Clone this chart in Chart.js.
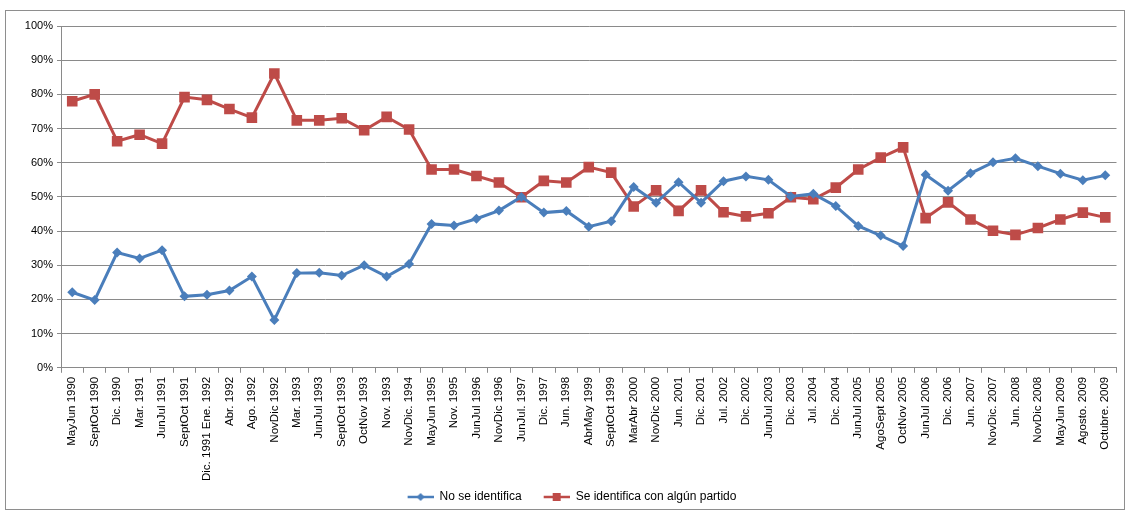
<!DOCTYPE html>
<html>
<head>
<meta charset="utf-8">
<script src="https://cdn.jsdelivr.net/npm/chart.js@4.4.1/dist/chart.umd.min.js"></script>
<style>
  html, body { margin: 0; padding: 0; background: #fff; }
  #frame {
    position: absolute; left: 5px; top: 10px;
    width: 1118px; height: 498px;
    border: 1px solid #8e8e8e;
  }
  #frame canvas { display: block; }
</style>
</head>
<body>
<div id="frame"><canvas id="lineChart" width="1118" height="498"></canvas></div>
<script>
// Survey rounds, 1990-2009
const periods = [
    'MayJun 1990', 'SeptOct 1990', 'Dic. 1990', 'Mar. 1991', 'JunJul 1991',
    'SeptOct 1991', 'Dic. 1991 Ene. 1992', 'Abr. 1992', 'Ago. 1992', 'NovDic 1992',
    'Mar. 1993', 'JunJul 1993', 'SeptOct 1993', 'OctNov 1993', 'Nov. 1993',
    'NovDic. 1994', 'MayJun 1995', 'Nov. 1995', 'JunJul 1996', 'NovDic 1996',
    'JunJul. 1997', 'Dic. 1997', 'Jun. 1998', 'AbrMay 1999', 'SeptOct 1999',
    'MarAbr 2000', 'NovDic 2000', 'Jun. 2001', 'Dic. 2001', 'Jul. 2002',
    'Dic. 2002', 'JunJul 2003', 'Dic. 2003', 'Jul. 2004', 'Dic. 2004',
    'JunJul 2005', 'AgoSept 2005', 'OctNov 2005', 'JunJul 2006', 'Dic. 2006',
    'Jun. 2007', 'NovDic. 2007', 'Jun. 2008', 'NovDic 2008', 'MayJun 2009',
    'Agosto. 2009', 'Octubre. 2009'
];

// % that does not identify with any party
const noIdentifica = [
    22.1, 19.8, 33.7, 32.0, 34.4, 20.9, 21.4, 22.6, 26.7, 14.0,
    27.7, 27.8, 27.0, 30.0, 26.7, 30.4, 42.1, 41.6, 43.6, 46.0,
    50.0, 45.4, 45.9, 41.3, 42.9, 52.9, 48.3, 54.3, 48.3, 54.6,
    56.0, 55.0, 50.1, 50.9, 47.3, 41.5, 38.7, 35.6, 56.5, 51.8,
    56.9, 60.1, 61.3, 59.0, 56.8, 54.9, 56.3
];

// % that identifies with some party
const seIdentifica = [
    78.0, 80.0, 66.3, 68.2, 65.6, 79.2, 78.4, 75.7, 73.2, 86.1,
    72.4, 72.4, 73.0, 69.5, 73.4, 69.7, 58.0, 58.0, 56.1, 54.2,
    49.9, 54.7, 54.2, 58.7, 57.1, 47.2, 51.9, 45.9, 51.9, 45.5,
    44.3, 45.2, 49.9, 49.3, 52.7, 58.0, 61.5, 64.5, 43.8, 48.4,
    43.4, 40.1, 38.9, 40.9, 43.4, 45.4, 44.0
];

const yTicks = [0, 10, 20, 30, 40, 50, 60, 70, 80, 90, 100];

const BLUE = '#4a7ebb';
const RED = '#be4b48';
const GRID = '#8a8a8a';
const FONT = { family: 'Liberation Sans', size: 11 };

// little line + marker swatch for the legend (left 16px kept blank as spacing)
function legendIcon(color, shape) {
    const c = document.createElement('canvas');
    c.width = 42;
    c.height = 12;
    const g = c.getContext('2d');
    g.strokeStyle = color;
    g.lineWidth = 2.5;
    g.beginPath();
    g.moveTo(16, 6);
    g.lineTo(42, 6);
    g.stroke();
    g.fillStyle = color;
    if (shape === 'rect') {
        g.fillRect(25, 2, 8, 8);
    } else {
        g.beginPath();
        g.moveTo(29, 2);
        g.lineTo(33, 6);
        g.lineTo(29, 10);
        g.lineTo(25, 6);
        g.closePath();
        g.fill();
    }
    return c;
}
const icons = [legendIcon(BLUE, 'diamond'), legendIcon(RED, 'rect')];

const chartData = {
    labels: periods,
    datasets: [{
        label: 'No se identifica',
        data: noIdentifica,
        borderColor: BLUE,
        backgroundColor: BLUE,
        borderWidth: 3,
        tension: 0,
        pointStyle: 'rectRot',
        pointRadius: 5,
        pointBorderWidth: 0
    }, {
        label: 'Se identifica con algún partido',
        data: seIdentifica,
        borderColor: RED,
        backgroundColor: RED,
        borderWidth: 3,
        tension: 0,
        pointStyle: 'rect',
        pointRadius: 7.5,
        pointBorderWidth: 0
    }]
};

const config = {
    type: 'line',
    data: chartData,
    options: {
        responsive: false,
        animation: false,
        layout: {
            padding: { top: 15, right: 2, left: 0, bottom: -4 }
        },
        plugins: {
            legend: {
                position: 'bottom',
                labels: {
                    usePointStyle: true,
                    pointStyleWidth: 42,
                    padding: 6,
                    color: '#000',
                    font: { family: 'Liberation Sans', size: 12 },
                    generateLabels(chart) {
                        const items = Chart.defaults.plugins.legend.labels.generateLabels(chart);
                        items.forEach((it, i) => { it.pointStyle = icons[i]; });
                        return items;
                    }
                }
            },
            tooltip: { enabled: false }
        },
        scales: {
            x: {
                offset: true,
                grid: {
                    offset: true,
                    drawOnChartArea: false,
                    drawTicks: true,
                    tickLength: 5,
                    color: GRID
                },
                border: { color: GRID },
                ticks: {
                    autoSkip: false,
                    minRotation: 90,
                    maxRotation: 90,
                    padding: 4,
                    color: '#000',
                    font: { family: 'Liberation Sans', size: 11.5 }
                }
            },
            y: {
                min: 0,
                max: 100,
                afterFit(scale) { scale.width = 55; },
                afterBuildTicks(scale) {
                    scale.ticks = yTicks.map(v => ({ value: v }));
                },
                grid: {
                    color: GRID,
                    tickLength: 4
                },
                border: { color: GRID },
                ticks: {
                    padding: 4,
                    color: '#000',
                    font: FONT,
                    callback: v => v + '%'
                }
            }
        }
    }
};

const ctx = document.getElementById('lineChart').getContext('2d');
const lineChart = new Chart(ctx, config);
</script>
</body>
</html>
